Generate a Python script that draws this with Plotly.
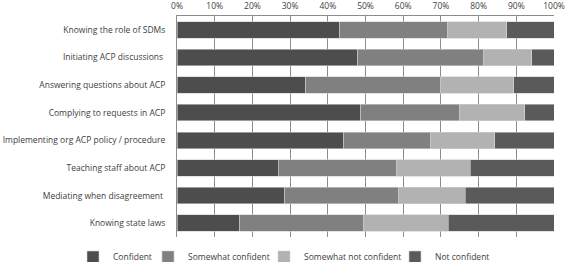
import plotly.graph_objects as go

categories = [
    "Knowing the role of SDMs",
    "Initiating ACP discussions ",
    "Answering questions about ACP",
    "Complying to requests in ACP",
    "Implementing org ACP policy / procedure",
    "Teaching staff about ACP",
    "Mediating when disagreement ",
    "Knowing state laws",
]
confident = [43.2, 48.0, 34.1, 48.8, 44.2, 26.9, 28.6, 16.6]
somewhat_confident = [28.6, 33.4, 35.7, 26.2, 23.0, 31.3, 30.1, 32.8]
somewhat_not_confident = [15.6, 12.7, 19.5, 17.2, 17.1, 19.6, 17.7, 22.6]
not_confident = [12.6, 5.9, 10.7, 7.8, 15.7, 22.2, 23.6, 28.0]

series = [
    ("Confident", confident, "#4d4d4d"),
    ("Somewhat confident", somewhat_confident, "#808080"),
    ("Somewhat not confident", somewhat_not_confident, "#b2b2b2"),
    ("Not confident", not_confident, "#5a5a5a"),
]
legend_ids = ["legend", "legend2", "legend3", "legend4"]
legend_x_px = [73, 148, 264, 395]

fig = go.Figure()
for (name, vals, color), lid in zip(series, legend_ids):
    fig.add_trace(go.Bar(
        y=categories, x=[v / 100 for v in vals], name=name, orientation="h",
        marker=dict(color=color, line=dict(color="#d0d0d0", width=0.6)),
        legend=lid,
    ))

W, H = 567, 262
font = dict(family="Open Sans, DejaVu Sans, sans-serif", size=8.5, color="#404040")
layout_legends = {}
for lid, px in zip(legend_ids, legend_x_px):
    layout_legends[lid] = dict(
        orientation="h", xref="container", x=px / W, xanchor="left",
        yref="container", y=(H - 257) / H, yanchor="middle",
        font=dict(size=8.5), itemwidth=30, itemclick=False,
        bgcolor="rgba(0,0,0,0)")

fig.update_layout(
    width=W, height=H,
    margin=dict(l=177, r=13, t=16, b=25, autoexpand=False),
    barmode="stack", bargap=0.4,
    paper_bgcolor="white", plot_bgcolor="white",
    font=font,
    showlegend=True,
    xaxis=dict(side="top", range=[0, 1], dtick=0.1, tickformat=".0%",
               showgrid=True, gridcolor="#8c8c8c", gridwidth=1,
               showline=True, linecolor="#8c8c8c", linewidth=1,
               ticks="", ticklabelstandoff=3, zeroline=False, fixedrange=True,
               automargin=False),
    yaxis=dict(autorange="reversed", showline=True, linecolor="#8c8c8c",
               ticks="", ticklabelstandoff=9, fixedrange=True, automargin=False),
    **layout_legends,
)
fig.write_html("out.html", config={"displayModeBar": False},
               post_script="document.body.style.margin='0px';document.body.style.overflow='hidden';")
